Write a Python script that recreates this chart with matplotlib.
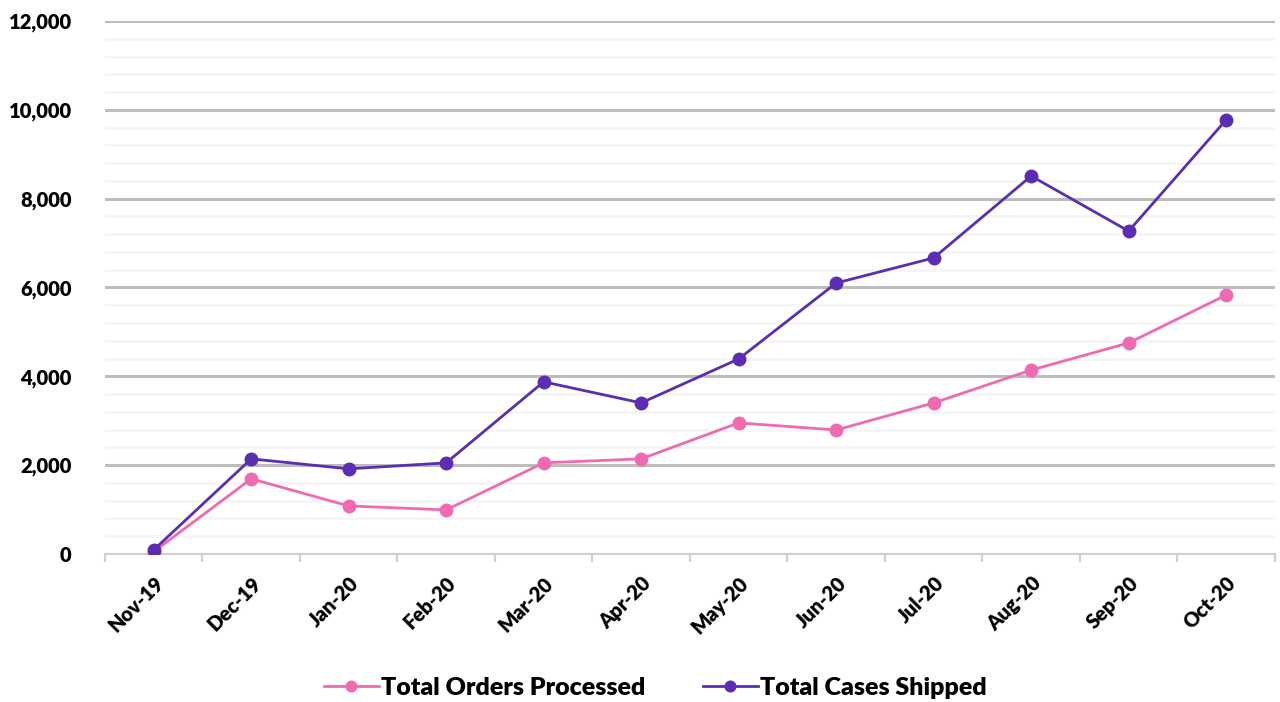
import numpy as np
import matplotlib.pyplot as plt
from matplotlib.ticker import FuncFormatter, MultipleLocator

months = ["Nov-19", "Dec-19", "Jan-20", "Feb-20", "Mar-20", "Apr-20",
          "May-20", "Jun-20", "Jul-20", "Aug-20", "Sep-20", "Oct-20"]
orders = [50, 1690, 1080, 990, 2050, 2140, 2950, 2790, 3400, 4140, 4750, 5830]
cases = [90, 2140, 1915, 2050, 3875, 3400, 4390, 6100, 6665, 8510, 7270, 9775]

pink = "#F06AB2"
purple = "#5A2DB3"

plt.rcParams['font.family'] = ['Lato', 'DejaVu Sans']

fig = plt.figure(figsize=(12.8, 7.02), dpi=100)
ax = fig.add_axes([0.082, 0.211, 0.914, 0.759])

x = np.arange(len(months))
ax.plot(x, orders, color=pink, lw=2, marker='o', ms=9, label="Total Orders Processed", zorder=3)
ax.plot(x, cases, color=purple, lw=2, marker='o', ms=9, label="Total Cases Shipped", zorder=4)

ax.set_xlim(-0.5, len(months) - 0.5)
ax.set_ylim(0, 12000)
ax.yaxis.set_major_locator(MultipleLocator(2000))
ax.yaxis.set_minor_locator(MultipleLocator(400))
ax.yaxis.set_major_formatter(FuncFormatter(lambda v, p: f"{int(v):,}"))
ax.grid(axis='y', which='major', color='#BDBDBD', lw=2.2)
ax.grid(axis='y', which='minor', color='#F6F6F6', lw=2)
ax.set_axisbelow(True)

ax.set_xticks(x)
ax.set_xticklabels(months, rotation=45, ha='right', rotation_mode='anchor',
                   fontsize=14.5, fontweight='heavy')
ax.set_xticks(np.arange(-0.5, len(months)), minor=True)
ax.tick_params(axis='x', which='major', length=0, pad=14)
ax.tick_params(axis='x', which='minor', length=6, color='#D0D0D0', width=1.5)
ax.tick_params(axis='y', which='both', length=0, pad=24, labelsize=14.5)
for lab in ax.get_yticklabels():
    lab.set_fontweight('heavy')

for s in ['top', 'right', 'left']:
    ax.spines[s].set_visible(False)
ax.spines['bottom'].set_color('#D0D0D0')
ax.spines['bottom'].set_linewidth(1.5)

leg = fig.legend(loc='center', bbox_to_anchor=(0.512, 0.02), ncol=2, frameon=False,
                 prop={'size': 18, 'weight': 'heavy'}, handlelength=2.2,
                 handletextpad=0.1, columnspacing=2.3, markerscale=0.85)

fig.savefig("out.png", dpi=100)
